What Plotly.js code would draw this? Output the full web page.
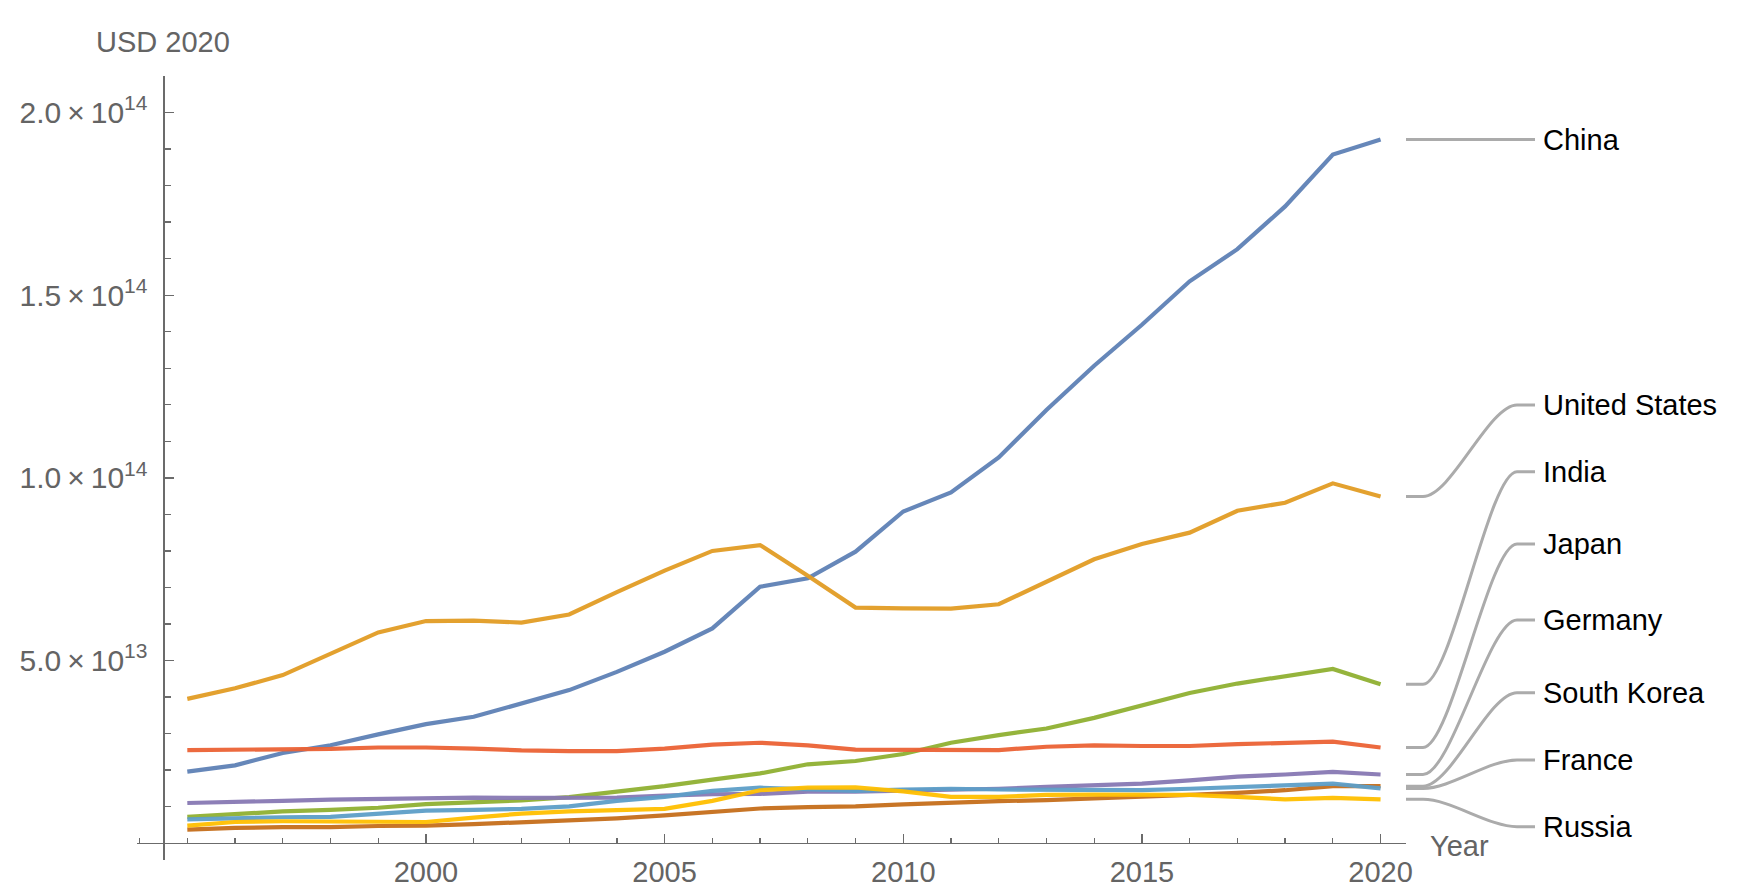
<!DOCTYPE html>
<html>
<head>
<meta charset="utf-8">
<script src="https://cdn.plot.ly/plotly-3.0.1.min.js"></script>
<style>html,body{margin:0;padding:0;background:#fff;}#chart{width:1754px;height:896px;}</style>
</head>
<body>
<div id="chart"></div>
<script>
// ---- data (values in units of 10^13 USD 2020) ----
const years = [1995,1996,1997,1998,1999,2000,2001,2002,2003,2004,2005,2006,2007,2008,2009,2010,2011,2012,2013,2014,2015,2016,2017,2018,2019,2020];
const countries = ["China","United States","India","Japan","Germany","South Korea","France","Russia"];
const china   = [1.96,2.13,2.47,2.68,2.98,3.26,3.46,3.84,4.19,4.69,5.24,5.88,7.02,7.25,7.98,9.08,9.60,10.56,11.86,13.07,14.19,15.38,16.26,17.43,18.85,19.26];
const usa     = [3.95,4.24,4.60,5.20,5.77,6.08,6.09,6.04,6.26,6.87,7.46,8.00,8.16,7.32,6.45,6.43,6.42,6.54,7.16,7.77,8.19,8.50,9.10,9.32,9.85,9.49];
const india   = [0.72,0.80,0.87,0.91,0.97,1.07,1.11,1.17,1.26,1.41,1.56,1.74,1.91,2.16,2.25,2.44,2.75,2.96,3.14,3.43,3.77,4.11,4.37,4.58,4.77,4.35];
const japan   = [2.55,2.56,2.57,2.58,2.62,2.62,2.59,2.54,2.52,2.52,2.59,2.70,2.75,2.68,2.56,2.56,2.55,2.55,2.64,2.68,2.66,2.66,2.71,2.74,2.78,2.62];
const germany = [1.10,1.12,1.16,1.19,1.21,1.25,1.25,1.24,1.24,1.25,1.30,1.34,1.35,1.41,1.41,1.43,1.47,1.49,1.54,1.58,1.63,1.72,1.82,1.88,1.95,1.88];
const korea   = [0.37,0.42,0.44,0.44,0.47,0.48,0.52,0.57,0.62,0.68,0.76,0.86,0.95,0.99,1.01,1.06,1.11,1.15,1.18,1.22,1.27,1.32,1.38,1.45,1.56,1.56];
const france  = [0.65,0.69,0.71,0.72,0.80,0.89,0.91,0.94,1.01,1.16,1.27,1.43,1.52,1.47,1.43,1.47,1.49,1.47,1.47,1.47,1.45,1.49,1.54,1.60,1.63,1.50];
const russia  = [0.48,0.58,0.60,0.60,0.58,0.58,0.70,0.81,0.87,0.91,0.94,1.16,1.45,1.52,1.53,1.42,1.27,1.27,1.32,1.33,1.33,1.32,1.27,1.20,1.24,1.20];
const UNIT = 1e13;

const yTickVals = [5e13, 1e14, 1.5e14, 2e14];
const yTickText = ["5.0\u2009×\u200910<sup>13</sup>", "1.0\u2009×\u200910<sup>14</sup>", "1.5\u2009×\u200910<sup>14</sup>", "2.0\u2009×\u200910<sup>14</sup>"];
const xTickVals = [2000, 2005, 2010, 2015, 2020];
const xTickText = ["2000", "2005", "2010", "2015", "2020"];

// ---- style ----
const series = [china, usa, india, japan, germany, korea, france, russia];
const colors = ["#5E81B5","#E19C24","#8FB032","#EB6235","#8778B3","#C56E1A","#5D9EC7","#FFBF00"];
const W = 1754, H = 896;
const M = {l:137, r:348, t:76, b:36};
const xRange = [1993.946, 2020.533];
const yRange = [-0.46e13, 2.1e14];
const axisColor = "#6b6b6b";
const textGray = "#646464";
const FONT = '"Liberation Sans", Arial, Helvetica, sans-serif';

const plotW = W - M.l - M.r, plotH = H - M.t - M.b;
const pxX = px => (px - M.l) / plotW;
const pxY = py => (H - M.b - py) / plotH;
const valY = v => (v - yRange[0]) / (yRange[1] - yRange[0]);
const dataX = x => (x - xRange[0]) / (xRange[1] - xRange[0]);

const traces = series.map((s, i) => ({
  x: years, y: s.map(v => v * UNIT), type: "scatter", mode: "lines",
  name: countries[i], line: {color: colors[i], width: 4.2}, opacity: 0.95, hoverinfo: "skip"
}));

const minorX = [];
for (let y = 1994; y <= 2020; y++) if (xTickVals.indexOf(y) < 0) minorX.push(y);
const minorY = [];
for (let k = 1; k <= 21; k++) { const v = k * 1e13; if (k % 5 !== 0) minorY.push(v); }

// label layout positions (pixels)
const labelPx = [null, 405, 471.7, 544, 620, 692.7, 760, 826.7];
const cx0 = 1406, cx1 = 1423, cx2 = 1517, cx3 = 1535, labelX = 1541;

const shapes = [], annotations = [];
series.forEach((s, i) => {
  const ys = valY(s[s.length - 1] * UNIT);
  const yl = labelPx[i] === null ? ys : pxY(labelPx[i]);
  const a = pxX(cx0), b = pxX(cx1), c = pxX(cx2), d = pxX(cx3);
  const k = 0.3 * (c - b);
  const path = `M ${a},${ys} L ${b},${ys} C ${b + k},${ys} ${c - k},${yl} ${c},${yl} L ${d},${yl}`;
  shapes.push({type: "path", xref: "paper", yref: "paper", path: path,
    line: {color: "#ababab", width: 3}});
  annotations.push({xref: "paper", yref: "paper", x: pxX(labelX), y: yl,
    xanchor: "left", yanchor: "middle", text: countries[i], showarrow: false,
    font: {family: FONT, size: 29, color: "#000"}});
});
annotations.push({xref: "paper", yref: "paper", x: pxX(163), y: pxY(41.7),
  xanchor: "center", yanchor: "middle", text: "USD 2020", showarrow: false,
  font: {family: FONT, size: 29, color: textGray}});
annotations.push({xref: "paper", yref: "paper", x: pxX(1428), y: pxY(846),
  xanchor: "left", yanchor: "middle", text: "Year", showarrow: false,
  font: {family: FONT, size: 29, color: textGray}});

const layout = {
  width: W, height: H,
  margin: {l: M.l, r: M.r, t: M.t, b: M.b, pad: 0},
  paper_bgcolor: "#fff", plot_bgcolor: "#fff",
  showlegend: false,
  font: {family: FONT, size: 29, color: textGray},
  xaxis: {
    range: xRange, anchor: "free", position: valY(0),
    showline: true, linecolor: axisColor, linewidth: 1.3,
    ticks: "inside", ticklen: 9, tickwidth: 1.3, tickcolor: axisColor,
    tickmode: "array", tickvals: xTickVals, ticktext: xTickText,
    ticklabelstandoff: 3,
    tickfont: {family: FONT, size: 29, color: textGray},
    minor: {tickmode: "array", tickvals: minorX, ticks: "inside", ticklen: 5, tickwidth: 1.3, tickcolor: axisColor, showgrid: false},
    showgrid: false, zeroline: false, fixedrange: true
  },
  yaxis: {
    range: yRange, anchor: "free", position: dataX(1994.5), side: "left",
    showline: true, linecolor: axisColor, linewidth: 1.3,
    ticks: "inside", ticklen: 9, tickwidth: 1.3, tickcolor: axisColor,
    tickmode: "array", tickvals: yTickVals, ticktext: yTickText,
    ticklabelstandoff: 10,
    tickfont: {family: FONT, size: 30, color: textGray},
    minor: {tickmode: "array", tickvals: minorY, ticks: "inside", ticklen: 6, tickwidth: 1.3, tickcolor: axisColor, showgrid: false},
    showgrid: false, zeroline: false, fixedrange: true
  },
  shapes: shapes,
  annotations: annotations
};

Plotly.newPlot("chart", traces, layout, {staticPlot: true, displayModeBar: false});
</script>
</body>
</html>
